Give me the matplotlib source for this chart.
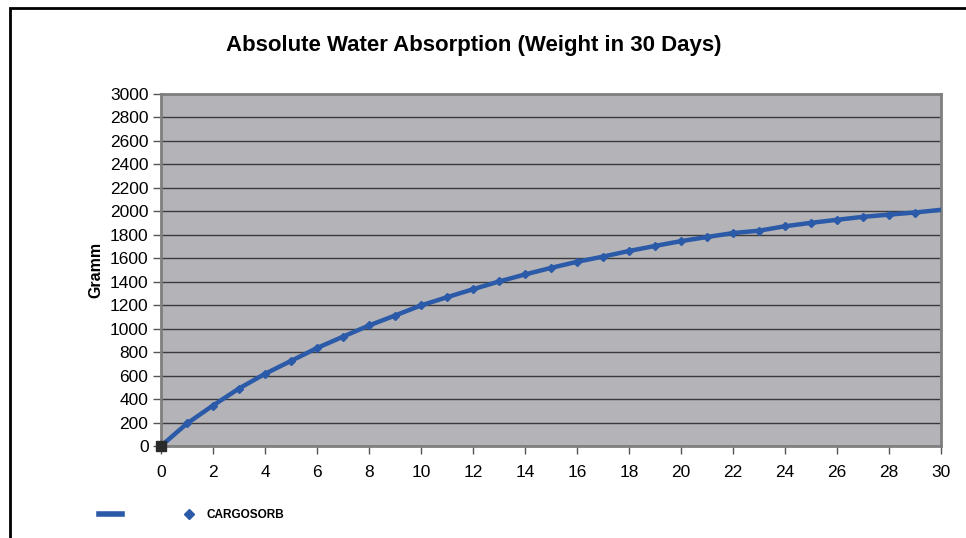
import matplotlib
matplotlib.use("Agg")
import matplotlib.pyplot as plt
from matplotlib.lines import Line2D
from matplotlib.patches import Rectangle

plt.rcParams['font.family'] = ['Liberation Sans', 'DejaVu Sans']

days = list(range(0, 31))
grams = [0, 192, 345, 490, 615, 725, 835, 932, 1027, 1112, 1198,
         1268, 1336, 1402, 1462, 1518, 1570, 1614, 1662, 1705, 1746,
         1781, 1815, 1835, 1873, 1902, 1928, 1953, 1972, 1990, 2013]
series_name = "CARGOSORB"
title = "Absolute Water Absorption (Weight in 30 Days)"
ylabel = "Gramm"

line_color = "#2b5aa8"

fig = plt.figure(figsize=(9.66, 5.38), dpi=100)
ax = fig.add_axes([161/966, 92/538, 780/966, 352/538])
ax.set_facecolor("#b4b3b8")

ax.plot(days, grams, color=line_color, lw=3.2, zorder=3, solid_capstyle='round')
ax.plot(days[1:-1], grams[1:-1], ls='none', marker='D', ms=4.5, color=line_color, zorder=4)
ax.plot(days[:1], grams[:1], ls='none', marker='s', ms=7, color="#2a2a2a", zorder=5, clip_on=False)

ax.set_xlim(0, 30)
ax.set_ylim(0, 3000)
ax.set_xticks(range(0, 31, 2))
ax.set_yticks(range(0, 3001, 200))
ax.yaxis.grid(True, color="#3a3a3a", lw=1.0)
ax.set_axisbelow(True)
for s in ax.spines.values():
    s.set_color("#7f7f7f")
    s.set_linewidth(2)
ax.tick_params(axis='both', direction='out', length=6, width=1, color="#555555",
               labelsize=12.5, labelcolor="black")
ax.tick_params(axis='x', pad=8)
ax.tick_params(axis='y', pad=3)

ax.set_ylabel(ylabel, fontsize=11.5, fontweight='bold', labelpad=5)
fig.text(474/966, 1 - 46/538, title, ha='center', va='center', fontsize=16, fontweight='bold')

h_line = Line2D([], [], color=line_color, lw=4)
h_mark = Line2D([], [], color=line_color, ls='none', marker='D', ms=5)
leg = fig.legend([h_line, h_mark], [" ", series_name], loc='center left',
                 bbox_to_anchor=(88/966, 1 - 515/538), ncol=2, frameon=False,
                 handlelength=2.0, handletextpad=0.5, columnspacing=3.9,
                 prop={'weight': 'bold', 'size': 8.5})

fig.add_artist(Rectangle((10/966, -0.1), 1.2, (1 - 8/538) + 0.1, transform=fig.transFigure,
                         fill=False, edgecolor='black', lw=2))

fig.savefig("out.png", dpi=100)
